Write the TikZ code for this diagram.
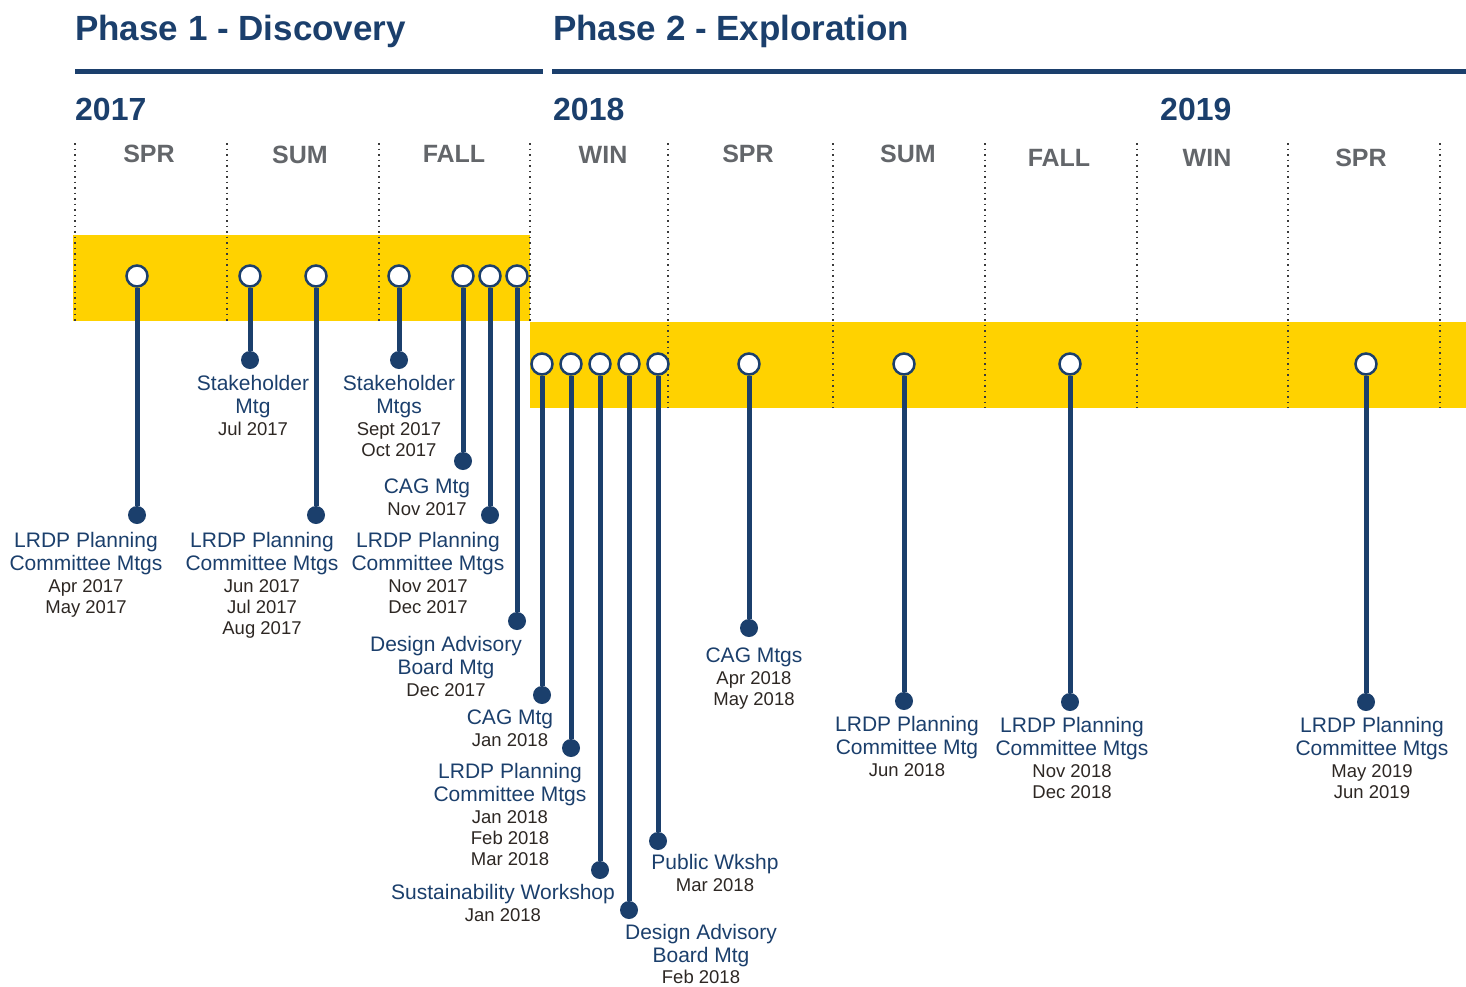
\documentclass[tikz,border=0pt]{standalone}
\usepackage{fontspec}
\setmainfont{Liberation Sans}
\definecolor{navy}{HTML}{1B3F6C}
\definecolor{gold}{HTML}{FFD200}
\definecolor{seasongray}{HTML}{63666A}
\definecolor{datedark}{HTML}{2D2723}
\definecolor{dotgray}{HTML}{3A3A3A}
\newcommand{\dt}{\fontsize{18.5}{21}\selectfont\color{datedark}}
\tikzset{
  phasetitle/.style={anchor=base west, inner sep=0pt, font=\fontsize{35}{40}\selectfont\bfseries, text=navy},
  yearlabel/.style={anchor=base west, inner sep=0pt, font=\fontsize{32}{36}\selectfont\bfseries, text=navy},
  seasonlabel/.style={anchor=base, inner sep=0pt, font=\fontsize{25}{28}\selectfont\bfseries, text=seasongray},
  phaserule/.style={line width=5pt, draw=navy},
  divider/.style={draw=dotgray, line width=1.5pt, dash pattern=on 1.5pt off 4pt},
  band/.style={fill=gold, draw=none},
  opendot/.style={circle, draw=navy, line width=2.5pt, fill=white, minimum size=21pt, inner sep=0pt},
  enddot/.style={circle, fill=navy, minimum size=18pt, inner sep=0pt},
  stem/.style={draw=navy, line width=5pt},
  event/.style={anchor=north, inner sep=0pt, align=center, font=\fontsize{21}{21}\selectfont, text=navy},
}
\begin{document}
\begin{tikzpicture}[x=1pt,y=-1pt]
\useasboundingbox (0,0) rectangle (1466,986);
% titles
\node[phasetitle] (p1) at (75,40) {Phase 1 - Discovery};
\node[phasetitle] (p2) at (553,40) {Phase 2 - Exploration};
\draw[phaserule] (75,71) -- (543,71);
\draw[phaserule] (552,71) -- (1466,71);
\node[yearlabel] (y17) at (75,120) {2017};
\node[yearlabel] (y18) at (553,120) {2018};
\node[yearlabel] (y19) at (1160,120) {2019};
% seasons
\node[seasonlabel] (s1) at (149,162) {SPR};
\node[seasonlabel] (s2) at (300,163) {SUM};
\node[seasonlabel] (s3) at (454,162) {FALL};
\node[seasonlabel] (s4) at (603,163) {WIN};
\node[seasonlabel] (s5) at (748,162) {SPR};
\node[seasonlabel] (s6) at (908,162) {SUM};
\node[seasonlabel] (s7) at (1059,166) {FALL};
\node[seasonlabel] (s8) at (1207,166) {WIN};
\node[seasonlabel] (s9) at (1361,166) {SPR};
% bands
\fill[band] (73,235) rectangle (530,321);
\fill[band] (530,322) rectangle (1466,408);
% dividers
\foreach \x in {75,227,379,530} \draw[divider] (\x,143) -- (\x,321);
\foreach \x in {668,833,985,1137,1288,1440} \draw[divider] (\x,143) -- (\x,408);
% open circles
\foreach \n/\x in {1/137,2/250,3/316,4/399,5/463,6/490,7/517}
  \node[opendot] (o\n) at (\x,276) {};
\foreach \n/\x in {8/542,9/571,10/600,11/629,12/658,13/749,14/904,15/1070,16/1366}
  \node[opendot] (o\n) at (\x,364) {};
% end dots
\node[enddot] (e1) at (137,515) {};
\node[enddot] (e2) at (250,360) {};
\node[enddot] (e3) at (316,515) {};
\node[enddot] (e4) at (399,360) {};
\node[enddot] (e5) at (463,461) {};
\node[enddot] (e6) at (490,515) {};
\node[enddot] (e7) at (517,621) {};
\node[enddot] (e8) at (542,695) {};
\node[enddot] (e9) at (571,748) {};
\node[enddot] (e10) at (600,870) {};
\node[enddot] (e11) at (629,910) {};
\node[enddot] (e12) at (658,841) {};
\node[enddot] (e13) at (749,628) {};
\node[enddot] (e14) at (904,701) {};
\node[enddot] (e15) at (1070,702) {};
\node[enddot] (e16) at (1366,702) {};
\foreach \n in {1,...,16} \draw[stem] (o\n) -- (e\n);
% labels
\node[event] (l1) at (86,532) {LRDP Planning\\[2pt]Committee Mtgs\\[1pt]\dt Apr 2017\\\dt May 2017};
\node[event] (l2) at (253,375) {Stakeholder\\[2pt]Mtg\\[1pt]\dt Jul 2017};
\node[event] (l3) at (262,532) {LRDP Planning\\[2pt]Committee Mtgs\\[1pt]\dt Jun 2017\\\dt Jul 2017\\\dt Aug 2017};
\node[event] (l4) at (399,375) {Stakeholder\\[2pt]Mtgs\\[1pt]\dt Sept 2017\\\dt Oct 2017};
\node[event] (l5) at (427,479) {CAG Mtg\\[1pt]\dt Nov 2017};
\node[event] (l6) at (428,532) {LRDP Planning\\[2pt]Committee Mtgs\\[1pt]\dt Nov 2017\\\dt Dec 2017};
\node[event] (l7) at (446,636) {Design Advisory\\[2pt]Board Mtg\\[1pt]\dt Dec 2017};
\node[event] (l8) at (510,710) {CAG Mtg\\[1pt]\dt Jan 2018};
\node[event] (l9) at (510,763) {LRDP Planning\\[2pt]Committee Mtgs\\[1pt]\dt Jan 2018\\\dt Feb 2018\\\dt Mar 2018};
\node[event] (l10) at (503,884) {Sustainability Workshop\\[1pt]\dt Jan 2018};
\node[event] (l11) at (715,854) {Public Wkshp\\[1pt]\dt Mar 2018};
\node[event] (l12) at (701,924) {Design Advisory\\[2pt]Board Mtg\\[0pt]\dt Feb 2018};
\node[event] (l13) at (754,648) {CAG Mtgs\\[1pt]\dt Apr 2018\\\dt May 2018};
\node[event] (l14) at (907,716) {LRDP Planning\\[2pt]Committee Mtg\\[1pt]\dt Jun 2018};
\node[event] (l15) at (1072,717) {LRDP Planning\\[2pt]Committee Mtgs\\[1pt]\dt Nov 2018\\\dt Dec 2018};
\node[event] (l16) at (1372,717) {LRDP Planning\\[2pt]Committee Mtgs\\[1pt]\dt May 2019\\\dt Jun 2019};
\end{tikzpicture}
\end{document}
